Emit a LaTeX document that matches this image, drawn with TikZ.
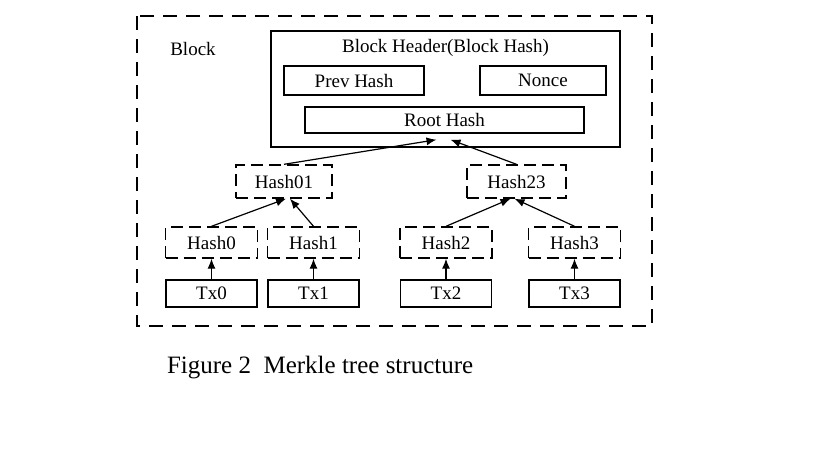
\documentclass[tikz,border=0pt]{standalone}
\usepackage{fontspec}
\setmainfont{Liberation Serif}
\usetikzlibrary{arrows.meta}
\begin{document}
\begin{tikzpicture}[x=0.5pt,y=-0.5pt,
  bx/.style={draw,line width=0.7pt,inner sep=0pt,font=\fontsize{9.5}{11}\selectfont},
  dbx/.style={bx,dashed,dash pattern=on 6pt off 3pt},
  arr/.style={-{Latex[length=5pt,width=4pt]},line width=0.6pt}]
\useasboundingbox (0,0) rectangle (826,462);
\draw[line width=1pt,dash pattern=on 7pt off 4.5pt] (137,16) rectangle (652,326);
\node[font=\fontsize{9.5}{11}\selectfont] (blk) at (193,49) {Block};
\node[bx,minimum width=174.5pt,minimum height=58pt] (hdr) at (445.5,89) {};
\node[font=\fontsize{9.5}{11}\selectfont] (ht) at (445.5,48) {Block Header(Block Hash)};
\node[bx,minimum width=70pt,minimum height=14.5pt] (prev) at (354,80.5) {Prev Hash};
\node[bx,minimum width=63pt,minimum height=14.5pt] (non) at (543,80.5) {Nonce};
\node[bx,minimum width=139.5pt,minimum height=13pt] (root) at (444.5,120) {Root Hash};
\node[dbx,minimum width=48pt,minimum height=16.5pt] (h01) at (284,181.5) {Hash01};
\node[dbx,minimum width=49.5pt,minimum height=16.5pt] (h23) at (516.5,181.5) {Hash23};
\foreach \n/\x in {0/211.5,1/313.5,2/446,3/574.5}{
  \node[dbx,minimum width=46pt,minimum height=15.5pt] (h\n) at (\x,242.5) {Hash\n};
  \node[bx,minimum width=45.5pt,minimum height=13.5pt] (t\n) at (\x,293.5) {Tx\n};
  \draw[arr] (t\n) -- (h\n);
}
\draw[arr] (h01.north) -- ([xshift=-4pt,yshift=-3pt]root.south);
\draw[arr] (h23.north) -- ([xshift=3pt,yshift=-3pt]root.south);
\draw[arr] (h0.north) -- ([xshift=1pt]h01.south);
\draw[arr] (h1.north) -- ([xshift=3pt]h01.south);
\draw[arr] (h2.north) -- ([xshift=-3pt]h23.south);
\draw[arr] (h3.north) -- ([xshift=-1pt]h23.south);
\node[font=\fontsize{12.5}{14}\selectfont,anchor=west] (cap) at (160,368) {Figure 2\ \ Merkle tree structure};
\end{tikzpicture}
\end{document}
